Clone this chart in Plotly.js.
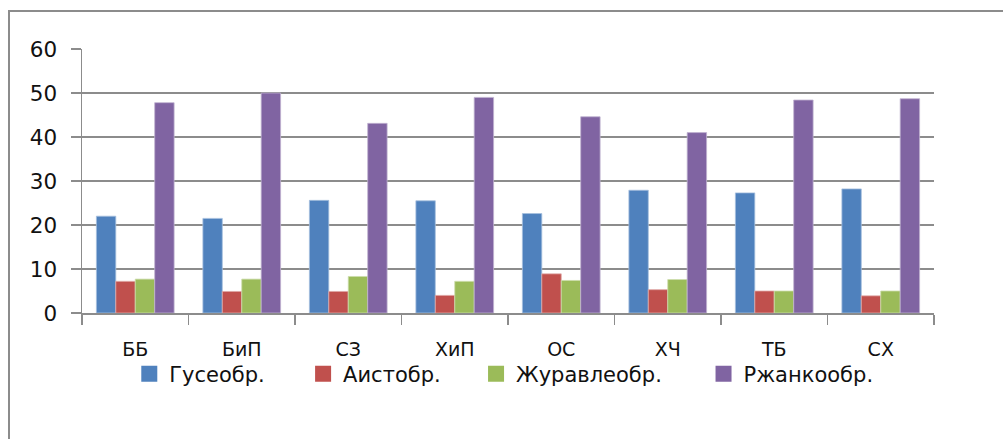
<!DOCTYPE html>
<html>
<head>
<meta charset="utf-8">
<script src="https://cdn.plot.ly/plotly-3.0.1.min.js"></script>
<style>
  html, body { margin: 0; padding: 0; background: #fff; overflow: hidden; }
  #wrap { position: relative; width: 1003px; height: 439px; }
  #frame { position: absolute; left: 8px; top: 10px; width: 1010px; height: 450px;
           border: 2px solid #8c8c8c; box-sizing: border-box; pointer-events: none; }
  #chart { position: absolute; left: 0; top: 0; width: 1003px; height: 439px; }
</style>
</head>
<body>
<div id="wrap">
  <div id="frame"></div>
  <div id="chart"></div>
</div>
<script>
// Sites
const categories = ['ББ', 'БиП', 'СЗ', 'ХиП', 'ОС', 'ХЧ', 'ТБ', 'СХ'];

// Share of each bird order per site
const gooseLike  = [22.0, 21.5, 25.6, 25.5, 22.6, 27.9, 27.3, 28.2];
const storkLike  = [7.2, 4.9, 4.9, 4.0, 8.9, 5.3, 5.0, 3.9];
const craneLike  = [7.7, 7.7, 8.3, 7.2, 7.4, 7.6, 5.0, 5.0];
const ploverLike = [47.8, 50.0, 43.1, 49.0, 44.6, 41.0, 48.4, 48.7];

const seriesNames = ['Гусеобр.', 'Аистобр.', 'Журавлеобр.', 'Ржанкообр.'];
const yTicks = [0, 10, 20, 30, 40, 50, 60];

const colors = ['#4F81BD', '#C0504D', '#9BBB59', '#8064A2'];
const edges  = ['#A7C0DE', '#DFA9A7', '#CDDDAC', '#C0B2D1'];

// Each series gets its own one-entry legend so the entries can sit where we want them
const legendIds = ['legend', 'legend2', 'legend3', 'legend4'];
const legendX   = [0.0555, 0.2595, 0.4625, 0.7295];

const FAMILY = '"DejaVu Sans", sans-serif';
const TEXT = '#111111';

const values = [gooseLike, storkLike, craneLike, ploverLike];

const bars = values.map((v, i) => ({
  type: 'bar',
  name: seriesNames[i],
  x: categories,
  y: v,
  marker: { color: colors[i], line: { color: edges[i], width: 0.8 } },
  showlegend: false,
  hoverinfo: 'x+y+name'
}));

// Legend swatches: square markers with no data points
const keys = seriesNames.map((name, i) => ({
  type: 'scatter',
  mode: 'markers',
  name: name,
  x: [null],
  y: [null],
  marker: { symbol: 'square', size: 16, color: colors[i] },
  legend: legendIds[i],
  showlegend: true,
  hoverinfo: 'skip'
}));

const layout = {
  width: 1003,
  height: 439,
  margin: { l: 82, r: 69, t: 49, b: 126 },
  paper_bgcolor: 'rgba(0,0,0,0)',
  plot_bgcolor: 'rgba(0,0,0,0)',
  font: { family: FAMILY, size: 20, color: TEXT },
  barmode: 'group',
  bargap: 0.27,
  bargroupgap: 0,
  showlegend: true,
  xaxis: {
    type: 'category',
    categoryorder: 'array',
    categoryarray: categories,
    showgrid: false,
    showline: true,
    linecolor: '#8c8c8c',
    linewidth: 1.5,
    ticks: 'outside',
    tickson: 'boundaries',
    ticklen: 10,
    tickcolor: '#8c8c8c',
    tickwidth: 1.5,
    ticklabelstandoff: 19,
    tickfont: { family: FAMILY, size: 19, color: TEXT },
    fixedrange: true
  },
  yaxis: {
    range: [0, 60],
    tickvals: yTicks,
    ticktext: yTicks.map(String),
    showgrid: true,
    gridcolor: '#8c8c8c',
    gridwidth: 1.5,
    showline: true,
    linecolor: '#8c8c8c',
    linewidth: 1.5,
    ticks: 'outside',
    ticklen: 10,
    tickcolor: '#8c8c8c',
    tickwidth: 1.5,
    ticklabelstandoff: 9,
    tickfont: { family: FAMILY, size: 21.5, color: TEXT },
    zeroline: false,
    fixedrange: true
  }
};

legendIds.forEach((id, i) => {
  layout[id] = {
    orientation: 'h',
    x: legendX[i], xanchor: 'left',
    y: -0.231, yanchor: 'middle',
    bgcolor: 'rgba(0,0,0,0)',
    borderwidth: 0,
    font: { family: FAMILY, size: 21, color: TEXT },
    itemwidth: 30
  };
});

Plotly.newPlot('chart', bars.concat(keys), layout, { displayModeBar: false, staticPlot: true });
</script>
</body>
</html>
